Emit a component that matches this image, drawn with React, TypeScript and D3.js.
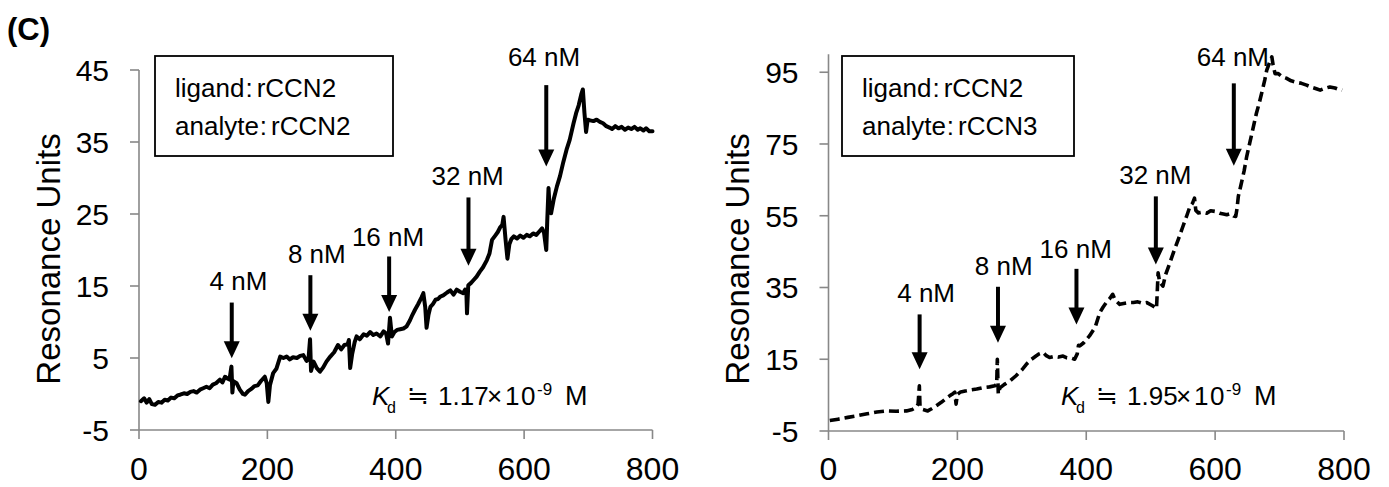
import React from "react";
import * as d3 from "d3";

// ---------- data ----------
const xTicks = [0, 200, 400, 600, 800];
const leftYTicks = [-5, 5, 15, 25, 35, 45];
const rightYTicks = [-5, 15, 35, 55, 75, 95];

// rCCN2 -> rCCN2 sensorgram (time, RU)
const leftSeries: [number, number][] = [
  [3,-1.0],[8,-0.6],[12,-1.2],[16,-0.7],[20,-1.4],[25,-1.5],[30,-1.1],[35,-1.2],[40,-0.8],[45,-0.9],
  [50,-0.5],[55,-0.6],[60,-0.2],[64,-0.1],[70,0.1],[75,0.0],[80,0.3],[85,0.4],[90,0.2],[95,0.6],
  [100,0.8],[105,1.0],[110,0.8],[115,1.3],[120,1.5],[126,2.0],[130,1.6],[134,2.4],[137,2.2],[141,2.0],
  [144,3.8],[145.5,0.2],[147,1.8],[152,1.5],[157,0.6],[162,0.0],[165,-0.1],[170,0.4],[175,0.7],[180,1.1],
  [185,1.2],[190,1.8],[196,2.4],[199,1.5],[201.5,-1.1],[204,1.2],[209,2.9],[214,3.5],[220,5.2],[225,5.0],
  [230,5.2],[235,4.8],[240,5.1],[246,5.0],[251,5.3],[256,5.4],[261,4.6],[264,4.8],[266.5,7.6],[268,3.2],
  [272,4.5],[277,3.6],[282,3.1],[287,3.7],[292,4.5],[298,5.2],[304,5.8],[310,6.8],[315,6.2],[320,6.8],
  [325,6.9],[327,7.5],[329,3.6],[332,5.5],[336,7.2],[339,8.0],[344,7.6],[350,8.3],[355,8.1],[360,8.6],
  [365,8.2],[370,8.4],[376,8.0],[381,8.7],[385,8.4],[388,7.0],[391,10.6],[394,8.0],[398,8.6],[402,8.9],
  [407,9.0],[412,9.1],[417,9.4],[422,10.2],[426,11.0],[430,11.7],[435,12.5],[440,13.4],[443,14.0],[446,12.0],
  [448,9.2],[451,11.0],[454,12.1],[458,12.5],[462,13.1],[466,13.2],[469,13.5],[474,13.7],[480,14.1],[485,14.4],
  [490,13.8],[495,14.5],[500,14.2],[505,14.0],[508,14.5],[510,14.2],[511,11.2],[513,15.1],[517,15.4],[521,15.8],
  [526,16.3],[531,17.0],[536,17.6],[542,18.6],[546,19.5],[550,21.4],[555,22.0],[559,22.5],[563,23.2],[566,23.5],
  [568,24.6],[571,21.5],[574,18.8],[577,20.8],[580,21.5],[584,21.9],[589,21.6],[594,22.0],[599,21.7],[604,22.1],
  [609,21.9],[614,22.3],[619,22.1],[624,22.6],[628,23.0],[631,22.4],[634.5,20.0],[636,24.0],[638,28.6],[640,25.5],
  [642,25.1],[646,27.0],[651,28.8],[656,30.3],[661,32.2],[666,33.9],[671,35.3],[677,37.6],[681,39.0],[685,40.1],
  [689,41.6],[691.5,42.3],[694,39.0],[696.5,36.4],[699,38.1],[703,38.0],[708,37.9],[713,38.1],[718,37.8],[723,37.6],
  [728,37.2],[733,37.0],[737,36.8],[742,37.2],[747,36.9],[752,37.1],[757,36.7],[762,37.0],[767,36.8],[772,37.1],
  [777,36.7],[781,36.9],[786,36.6],[790,36.9],[795,36.5],[800,36.5]
];

// rCCN2 -> rCCN3 sensorgram (time, RU)
const rightSeries: [number, number][] = [
  [2,-2.1],[15,-1.7],[30,-1.2],[43,-0.8],[60,-0.2],[75,0.3],[90,0.6],[105,0.5],[121,0.6],[130,1.0],
  [136,1.6],[139,2.5],[141,7.6],[142,2.0],[146,1.0],[154,0.6],[160,1.2],[167,2.0],[175,3.0],[182,4.0],
  [188,4.8],[193,5.4],[196,5.8],[198,2.5],[200,5.2],[205,5.9],[214,6.2],[222,6.5],[230,6.7],[240,7.1],
  [250,7.3],[258,7.6],[261,8.0],[262,15.0],[263.5,5.3],[266,7.0],[273,8.0],[282,9.0],[291,10.4],[300,12.0],
  [307,13.6],[315,15.0],[322,15.9],[327,16.5],[333,16.9],[338,16.0],[343,15.5],[350,15.8],[357,15.6],[364,15.9],
  [370,15.4],[377,15.3],[382,15.0],[386,16.5],[388,18.9],[390,18.7],[396,19.6],[405,21.5],[414,24.0],[421,28.0],
  [426,29.5],[431,30.8],[436,31.8],[441,33.1],[445,31.5],[452,30.3],[460,30.6],[466,30.8],[473,30.8],[480,31.0],
  [487,30.6],[494,30.8],[500,30.2],[506,29.6],[509,29.1],[510,33.0],[511.5,39.1],[514,36.5],[519,35.4],[523,38.5],
  [529,41.5],[535,44.6],[543,48.5],[550,52.0],[556,55.0],[561,57.6],[565,58.5],[568,59.9],[570,56.5],[574,55.8],
  [580,56.0],[587,55.7],[593,56.4],[600,56.2],[607,55.7],[613,55.5],[618,55.3],[624,55.6],[629,54.9],[632,54.8],
  [634,57.0],[636,60.4],[640,63.5],[645,67.5],[649,71.5],[654,75.5],[659,79.5],[664,83.5],[669,86.8],[674,90.5],
  [677,92.8],[680,95.5],[684,97.5],[688,99.3],[690,97.0],[693,94.6],[698,94.6],[704,93.7],[711,93.3],[718,92.6],
  [726,92.2],[734,91.9],[742,91.4],[750,90.8],[757,90.4],[763,90.0],[770,90.5],[778,90.9],[786,90.6],[792,90.2],
  [797,90.0]
];

// injection arrows: label, arrow x, arrow top y, arrow tip y, label x, label baseline y (data units)
const concLabels = ["4 nM", "8 nM", "16 nM", "32 nM", "64 nM"];
const leftArrowX = [144.5, 267, 389.7, 513.3, 634.5];
const leftArrowTop = [12.7, 16.5, 19.1, 27.3, 42.9];
const leftArrowTip = [4.96, 8.8, 11.4, 17.8, 31.6];
const leftLabelX = [155, 277, 388, 512, 631];
const leftLabelY = [14.4, 18.2, 20.6, 29.0, 45.5];

const rightArrowX = [141.4, 263, 384.8, 508, 629];
const rightArrowTop = [27.5, 35.2, 40.2, 60.4, 91.9];
const rightArrowTip = [12.2, 19.6, 24.7, 41.4, 68.9];
const rightLabelX = [151.5, 271.8, 383.7, 507.2, 627.6];
const rightLabelY = [30.9, 38.6, 43.3, 63.9, 96.7];

const legendLeft = { ligand: "rCCN2", analyte: "rCCN2" };
const legendRight = { ligand: "rCCN2", analyte: "rCCN3" };
const kdLeft = "1.17";
const kdRight = "1.95";

const FONT = "'Liberation Sans', Arial, Helvetica, sans-serif";
const AXIS = "#888888";

type PanelProps = {
  x0: number; x1: number; yBottom: number; yTop: number;
  yDomain: [number, number];
  yTicks: number[];
  series: [number, number][];
  dashed: boolean;
  arrowX: number[]; arrowTop: number[]; arrowTip: number[]; labelX: number[]; labelY: number[];
  legend: { ligand: string; analyte: string };
  legendBox: { x: number; y: number; w: number; h: number };
  kd: string;
  kdPos: { x: number; y: number };
  titleX: number;
};

function Panel(p: PanelProps) {
  const xs = d3.scaleLinear().domain([0, 800]).range([p.x0, p.x1]);
  const ys = d3.scaleLinear().domain(p.yDomain).range([p.yBottom, p.yTop]);
  const line = d3.line<[number, number]>().x(d => xs(d[0])).y(d => ys(d[1]));
  const axisY = ys(p.yDomain[0]);
  const lb = p.legendBox;
  const kx = p.kdPos.x, ky = p.kdPos.y;
  return (
    <g>
      {/* axes */}
      <line x1={p.x0} x2={p.x1} y1={axisY} y2={axisY} stroke={AXIS} strokeWidth={1.6} />
      <line x1={p.x0} x2={p.x0} y1={axisY} y2={p.yTop} stroke={AXIS} strokeWidth={1.6} />
      {p.yTicks.map(t => (
        <g key={"y" + t}>
          <line x1={p.x0 - 9} x2={p.x0} y1={ys(t)} y2={ys(t)} stroke={AXIS} strokeWidth={1.6} />
          <text x={p.x0 - 30} y={ys(t)} dy="0.36em" textAnchor="end" fontSize={30} fontFamily={FONT} fill="#000">{t}</text>
        </g>
      ))}
      {xTicks.map(t => (
        <g key={"x" + t}>
          <line x1={xs(t)} x2={xs(t)} y1={axisY} y2={axisY + 9} stroke={AXIS} strokeWidth={1.6} />
          <text x={xs(t)} y={480} textAnchor="middle" fontSize={32} fontFamily={FONT} fill="#000">{t}</text>
        </g>
      ))}
      <text transform={`translate(${p.titleX},259) rotate(-90)`} textAnchor="middle" fontSize={33} fontFamily={FONT} fill="#000">Resonance Units</text>

      {/* series */}
      <path d={line(p.series) || ""} fill="none" stroke="#000" strokeWidth={p.dashed ? 3.6 : 4}
        strokeLinejoin="round" strokeLinecap={p.dashed ? "butt" : "round"}
        strokeDasharray={p.dashed ? "10,5" : undefined} />

      {/* arrows */}
      {concLabels.map((lab, i) => {
        const ax = xs(p.arrowX[i]);
        const top = ys(p.arrowTop[i]);
        const tip = ys(p.arrowTip[i]);
        const hh = 17, hw = 8;
        return (
          <g key={lab}>
            <line x1={ax} x2={ax} y1={top} y2={tip - hh + 1} stroke="#000" strokeWidth={4} />
            <path d={`M${ax - hw},${tip - hh} L${ax + hw},${tip - hh} L${ax},${tip} Z`} fill="#000" />
            <text x={xs(p.labelX[i])} y={ys(p.labelY[i])} textAnchor="middle" fontSize={26} fontFamily={FONT} fill="#000">{lab}</text>
          </g>
        );
      })}

      {/* legend box */}
      <rect x={lb.x} y={lb.y} width={lb.w} height={lb.h} fill="#fff" stroke="#000" strokeWidth={1.8} />
      <text x={lb.x + 20} y={lb.y + 41} fontSize={26} fontFamily={FONT} fill="#000">
        ligand<tspan dx={1}>:</tspan><tspan dx={4}>{p.legend.ligand}</tspan>
      </text>
      <text x={lb.x + 20} y={lb.y + 79} fontSize={26} fontFamily={FONT} fill="#000">
        analyte<tspan dx={1}>:</tspan><tspan dx={4}>{p.legend.analyte}</tspan>
      </text>

      {/* Kd */}
      <text y={ky} fontSize={26} fontFamily={FONT} fill="#000">
        <tspan x={kx - 1} fontStyle="italic">K</tspan>
        <tspan x={kx + 14} fontSize={16} dy={8}>d</tspan>
        <tspan x={kx + 34} dy={-8}>≒</tspan>
        <tspan x={kx + 65}>{p.kd}</tspan>
        <tspan x={kx + 114}>×</tspan>
        <tspan x={kx + 132} letterSpacing={1.5}>10</tspan>
        <tspan x={kx + 164} fontSize={17} dy={-10}>-9</tspan>
        <tspan x={kx + 192} fontSize={27} dy={10}>M</tspan>
      </text>
    </g>
  );
}

export default function App() {
  return (
    <svg width={1389} height={487} style={{ display: "block", position: "absolute", left: 0, top: 0, background: "#fff" }}>
      <rect width={1389} height={487} fill="#fff" />
      <text x={7} y={40} fontSize={31} fontWeight="bold" fontFamily={FONT} fill="#000">(C)</text>
      <Panel
        x0={139} x1={652.5} yBottom={430} yTop={70} yDomain={[-5, 45]} yTicks={leftYTicks}
        series={leftSeries} dashed={false}
        arrowX={leftArrowX} arrowTop={leftArrowTop} arrowTip={leftArrowTip} labelX={leftLabelX} labelY={leftLabelY}
        legend={legendLeft} legendBox={{ x: 155, y: 56, w: 238, h: 100 }}
        kd={kdLeft} kdPos={{ x: 373, y: 405 }} titleX={60}
      />
      <Panel
        x0={828.5} x1={1344} yBottom={431} yTop={54.3} yDomain={[-5, 100]} yTicks={rightYTicks}
        series={rightSeries} dashed={true}
        arrowX={rightArrowX} arrowTop={rightArrowTop} arrowTip={rightArrowTip} labelX={rightLabelX} labelY={rightLabelY}
        legend={legendRight} legendBox={{ x: 842, y: 56, w: 232, h: 100 }}
        kd={kdRight} kdPos={{ x: 1062, y: 405 }} titleX={749}
      />
    </svg>
  );
}
